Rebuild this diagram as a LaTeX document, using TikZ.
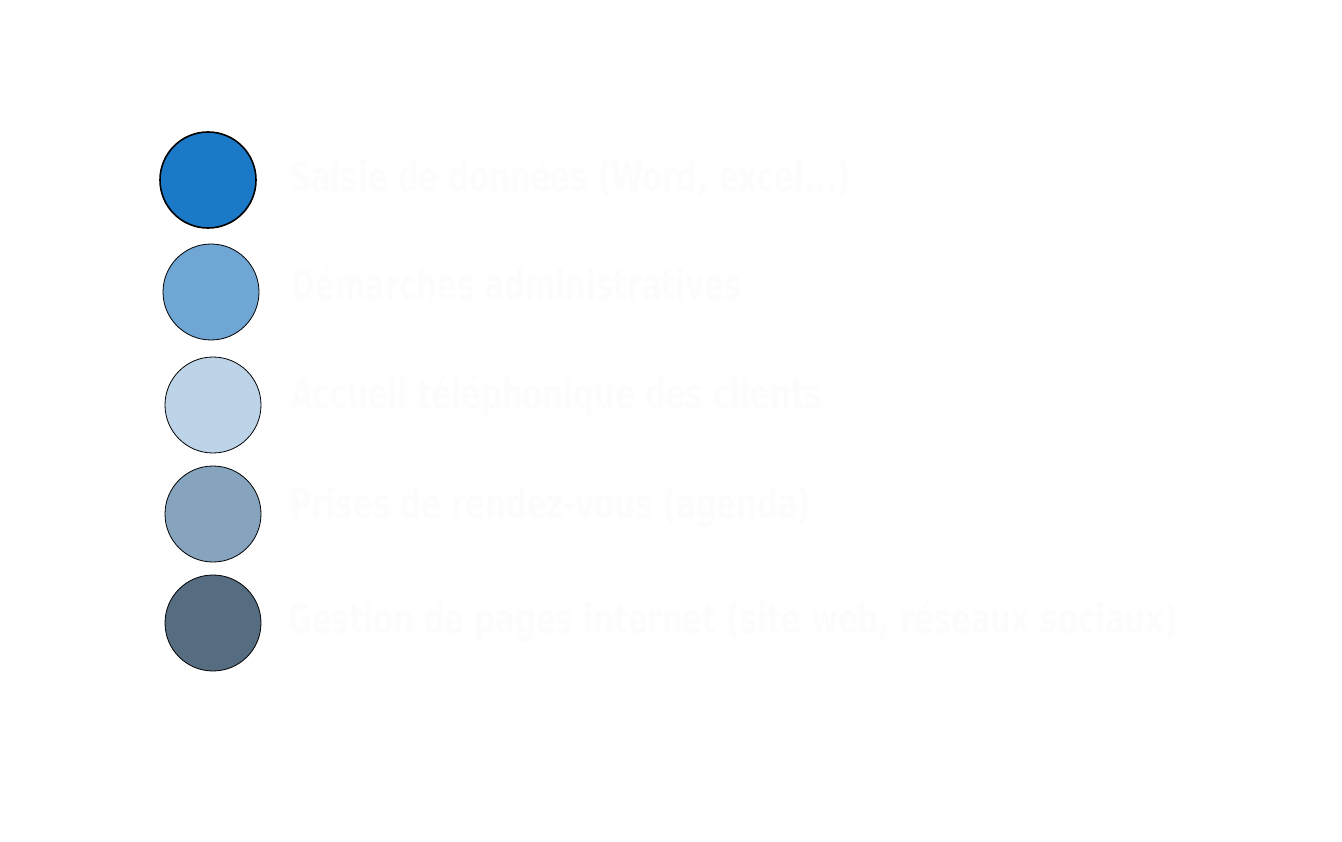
\documentclass[tikz,border=0pt]{standalone}
\usepackage{fontspec}
\newfontfamily\lblfont[FakeStretch=0.79]{DejaVu Sans Condensed}
\usetikzlibrary{positioning}
\definecolor{blueA}{HTML}{1B79C8}
\definecolor{blueB}{HTML}{70A6D4}
\definecolor{blueC}{HTML}{BDD3E8}
\definecolor{blueD}{HTML}{86A4BE}
\definecolor{blueE}{HTML}{566C80}
\definecolor{lbltext}{HTML}{FCFCFC}
\tikzset{
  dotnode/.style={circle, draw=black, line width=0.8pt, minimum size=96pt, inner sep=0pt},
  lbl/.style={anchor=base west, inner sep=0pt, text=lbltext,
              font=\lblfont\bfseries\fontsize{41}{45}\selectfont}}
\begin{document}
\begin{tikzpicture}[x=1pt, y=-1pt]
  \useasboundingbox (0,0) rectangle (1342,842);
  \node[dotnode, fill=blueA, line width=1.6pt] (saisie) at (208,180) {};
  \node[dotnode, fill=blueB] (demarches) at (211,292) {};
  \node[dotnode, fill=blueC] (accueil) at (213,405) {};
  \node[dotnode, fill=blueD] (rdv) at (213,514) {};
  \node[dotnode, fill=blueE] (pages) at (213,623) {};
  \node[lbl] (saisielbl) at (290,192) {Saisie de données (Word, excel...)};
  \node[lbl] (demarcheslbl) at (291,300) {Démarches administratives};
  \node[lbl] (accueillbl) at (290,409) {Accueil téléphonique des clients};
  \node[lbl] (rdvlbl) at (290,518) {Prises de rendez-vous (agenda)};
  \node[lbl] (pageslbl) at (288,633) {Gestion de pages internet (site web, réseaux sociaux)};
\end{tikzpicture}
\end{document}
